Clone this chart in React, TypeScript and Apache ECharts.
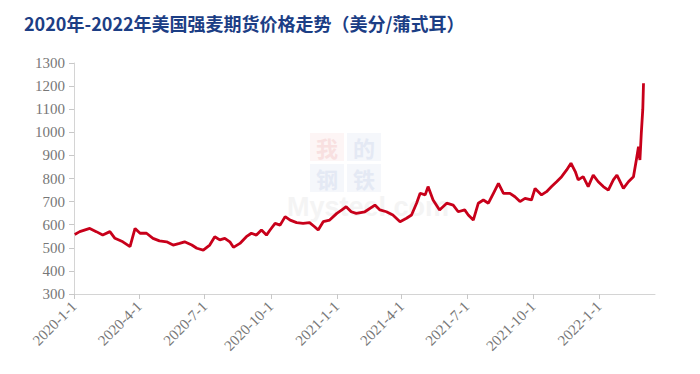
import React, { useEffect, useRef } from "react";
import * as echarts from "echarts";

const titleText = "2020年-2022年美国强麦期货价格走势（美分/蒲式耳）";

const dates: string[] = [
  "2020-01-02", "2020-01-09", "2020-01-23", "2020-02-01", "2020-02-10", "2020-02-20", "2020-02-27",
  "2020-03-09", "2020-03-19", "2020-03-26", "2020-04-02", "2020-04-11", "2020-04-20", "2020-04-29",
  "2020-05-09", "2020-05-18", "2020-05-27", "2020-06-03", "2020-06-13", "2020-06-20", "2020-06-29",
  "2020-07-08", "2020-07-15", "2020-07-22", "2020-07-29", "2020-08-05", "2020-08-10", "2020-08-19",
  "2020-08-28", "2020-09-04", "2020-09-11", "2020-09-18", "2020-09-25", "2020-09-30", "2020-10-07",
  "2020-10-14", "2020-10-21", "2020-10-28", "2020-11-06", "2020-11-15", "2020-11-24", "2020-12-01",
  "2020-12-06", "2020-12-13", "2020-12-22", "2021-01-01", "2021-01-08", "2021-01-14", "2021-01-21",
  "2021-01-28", "2021-02-09", "2021-02-23", "2021-03-02", "2021-03-11", "2021-03-20", "2021-03-30",
  "2021-04-08", "2021-04-15", "2021-04-22", "2021-04-27", "2021-05-04", "2021-05-08", "2021-05-15",
  "2021-05-24", "2021-06-03", "2021-06-12", "2021-06-19", "2021-06-28", "2021-07-03", "2021-07-10",
  "2021-07-17", "2021-07-24", "2021-07-31", "2021-08-07", "2021-08-14", "2021-08-21", "2021-08-30",
  "2021-09-06", "2021-09-13", "2021-09-20", "2021-09-29", "2021-10-04", "2021-10-13", "2021-10-20",
  "2021-10-27", "2021-11-03", "2021-11-10", "2021-11-17", "2021-11-23", "2021-11-29", "2021-12-03",
  "2021-12-10", "2021-12-17", "2021-12-24", "2021-12-31", "2022-01-07", "2022-01-14", "2022-01-21",
  "2022-01-26", "2022-02-04", "2022-02-11", "2022-02-18", "2022-02-22", "2022-02-25", "2022-02-27",
  "2022-03-01", "2022-03-03", "2022-03-04",
];

const prices: number[] = [
  558, 570, 584, 570, 555, 570, 541,
  526, 505, 584, 563, 563, 541, 530,
  526, 512, 519, 526, 512, 498, 490,
  512, 548, 534, 541, 526, 502, 519,
  548, 563, 555, 577, 555, 577, 606,
  598, 635, 620, 609, 606, 609, 591,
  577, 613, 620, 649, 664, 678, 656,
  649, 656, 685, 664, 656, 642, 613,
  628, 642, 693, 736, 729, 765, 707,
  664, 693, 685, 656, 664, 642, 620,
  693, 707, 693, 736, 779, 736, 736,
  721, 700, 714, 707, 757, 729, 743,
  765, 786, 808, 837, 866, 830, 794,
  808, 765, 815, 786, 765, 750, 794,
  815, 757, 786, 808, 880, 938, 880,
  1000, 1100, 1212,
];

const tickDates: string[] = [
  "2020-01-01", "2020-04-01", "2020-07-01", "2020-10-01",
  "2021-01-01", "2021-04-01", "2021-07-01", "2021-10-01", "2022-01-01",
];

const startDate = "2020-01-01";
const endDate = "2022-03-20";

const yMin = 300;
const yMax = 1300;
const yStep = 100;

const DAY = 86400000;
const toDay = (d: string) => Math.round((Date.parse(d + "T00:00:00Z") - Date.parse(startDate + "T00:00:00Z")) / DAY);
const fromDay = (n: number) => {
  const d = new Date(Date.parse(startDate + "T00:00:00Z") + Math.round(n) * DAY);
  return `${d.getUTCFullYear()}-${d.getUTCMonth() + 1}-${d.getUTCDate()}`;
};

export default function App() {
  const ref = useRef<HTMLDivElement>(null);

  useEffect(() => {
    if (!ref.current) return;
    const chart = echarts.init(ref.current, undefined, { renderer: "svg" });
    const tickValues = tickDates.map(toDay);
    const serif = "Times New Roman, Liberation Serif, serif";
    const cjk = "Noto Sans CJK SC";
    const wm = (text: string, left: number, top: number, fill: string) => ({
      type: "text",
      left,
      top,
      style: { text, fontFamily: cjk, fontSize: 22, lineHeight: 26, fontWeight: "bold", fill },
      z: 1,
    });
    chart.setOption({
      animation: false,
      backgroundColor: "#ffffff",
      title: {
        text: titleText,
        left: 24,
        top: 14,
        padding: 0,
        textStyle: {
          fontFamily: cjk,
          fontSize: 18,
          fontWeight: "bold",
          color: "#1c3e85",
        },
      },
      graphic: [
        { type: "rect", left: 310, top: 133, shape: { width: 34, height: 28 }, style: { fill: "#fdf5f5" }, z: 0 },
        { type: "rect", left: 347, top: 133, shape: { width: 34, height: 28 }, style: { fill: "#f5f7fb" }, z: 0 },
        { type: "rect", left: 310, top: 164, shape: { width: 34, height: 28 }, style: { fill: "#f5f7fb" }, z: 0 },
        { type: "rect", left: 347, top: 164, shape: { width: 34, height: 28 }, style: { fill: "#f5f7fb" }, z: 0 },
        wm("我", 316, 134, "#f8e0e0"),
        wm("的", 353, 134, "#e4e9f4"),
        wm("钢", 316, 165, "#e4e9f4"),
        wm("铁", 353, 165, "#e4e9f4"),
        { type: "text", left: 287, top: 193, style: { text: "Mysteel.com", fontFamily: "Liberation Sans", fontSize: 27, lineHeight: 28, fontWeight: "bold", fill: "#f4f4f4" }, z: 1 },
      ],
      grid: { left: 74, right: 45, top: 63, bottom: 80, containLabel: false },
      xAxis: {
        type: "value",
        min: 0,
        max: toDay(endDate),
        axisLine: { show: true, onZero: false, lineStyle: { color: "#d4d4d4", width: 1 } },
        axisTick: { show: true, length: 5, customValues: tickValues, lineStyle: { color: "#c8c8c8" } },
        splitLine: { show: false },
        axisLabel: {
          customValues: tickValues,
          rotate: 45,
          margin: 10,
          color: "#777777",
          fontFamily: serif,
          fontSize: 15,
          formatter: (v: number) => fromDay(v),
        },
      },
      yAxis: {
        type: "value",
        min: yMin,
        max: yMax,
        interval: yStep,
        axisLine: { show: true, lineStyle: { color: "#d4d4d4", width: 1 } },
        axisTick: { show: true, length: 5, lineStyle: { color: "#c8c8c8" } },
        splitLine: { show: false },
        axisLabel: {
          margin: 9,
          color: "#777777",
          fontFamily: serif,
          fontSize: 15,
          formatter: (v: number) => String(v),
        },
      },
      series: [
        {
          type: "line",
          data: dates.map((d, i) => [toDay(d), prices[i]]),
          showSymbol: false,
          symbol: "none",
          lineStyle: { color: "#c8001a", width: 2.8 },
          z: 5,
        },
      ],
    });
    return () => chart.dispose();
  }, []);

  return (
    <div
      ref={ref}
      style={{ position: "fixed", left: 0, top: 0, width: 700, height: 374 }}
    />
  );
}
